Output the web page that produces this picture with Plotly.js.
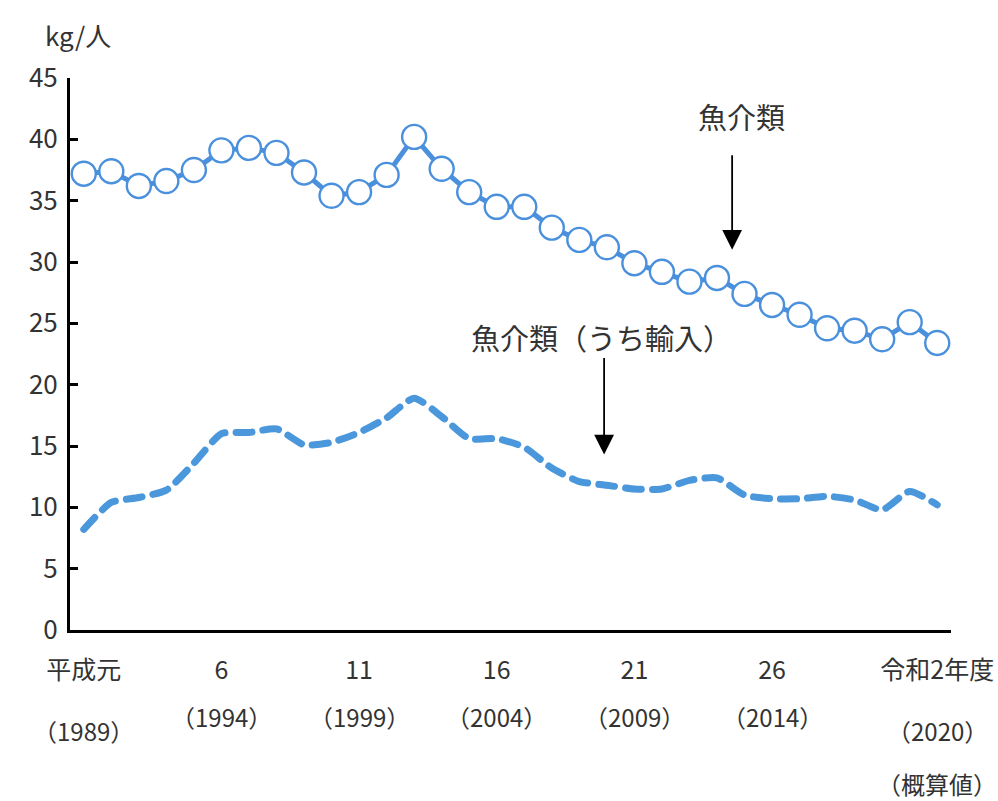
<!DOCTYPE html>
<html>
<head>
<meta charset="utf-8">
<script src="https://cdn.plot.ly/plotly-3.0.1.min.js"></script>
<style>
html,body{margin:0;padding:0;background:#fff;}
#chart{width:998px;height:801px;}
</style>
</head>
<body>
<div id="chart"></div>
<script>
const years = [1989,1990,1991,1992,1993,1994,1995,1996,1997,1998,1999,2000,2001,2002,2003,2004,2005,2006,2007,2008,2009,2010,2011,2012,2013,2014,2015,2016,2017,2018,2019,2020];
const fishTotal = [37.2,37.4,36.2,36.6,37.5,39.1,39.3,38.9,37.3,35.4,35.7,37.1,40.2,37.6,35.7,34.5,34.5,32.8,31.8,31.2,29.9,29.2,28.4,28.7,27.4,26.5,25.7,24.6,24.4,23.7,25.1,23.4];
const fishImport = [8.2,10.4,10.8,11.4,13.6,16.0,16.1,16.4,15.1,15.3,16.1,17.3,18.9,17.4,15.6,15.6,14.9,13.2,12.1,11.8,11.5,11.5,12.2,12.4,11.0,10.7,10.7,10.9,10.6,9.8,11.3,10.2];
const tickYears = [1989,1994,1999,2004,2009,2014,2020];
const tickEra = ['平成元','6','11','16','21','26','令和2年度'];
const tickWestern = ['（1989）','（1994）','（1999）','（2004）','（2009）','（2014）','（2020）'];
const yTicks = [0,5,10,15,20,25,30,35,40,45];
const seriesNames = ['魚介類','魚介類（うち輸入）'];
const unitLabel = 'kg/人';
const noteLabel = '（概算値）';

const FONT = '"Noto Sans CJK JP", "Noto Sans", sans-serif';
const TXT = '#333333';

const traces = [
  {
    x: years, y: fishImport, type: 'scatter', mode: 'lines', name: seriesNames[1],
    line: {color: '#4a97dc', width: 7, dash: '16px,11px', shape: 'spline', smoothing: 0.6},
    hoverinfo: 'x+y'
  },
  {
    x: years, y: fishTotal, type: 'scatter', mode: 'lines+markers', name: seriesNames[0],
    line: {color: '#4a90dc', width: 5},
    marker: {symbol: 'circle', size: 24, color: '#ffffff', line: {color: '#4a90dc', width: 2.4}},
    hoverinfo: 'x+y'
  }
];

const annotations = [];
tickYears.forEach((yr, i) => {
  annotations.push({
    x: yr, xref: 'x', y: 0, yref: 'y', yshift: (yr === 1989 || yr === 2020) ? -100 : -86,
    text: tickWestern[i], showarrow: false, xanchor: 'center', yanchor: 'middle',
    font: {family: FONT, size: 24, color: TXT}
  });
});
annotations.push({
  x: 2020, xref: 'x', y: 0, yref: 'y', yshift: -153,
  text: noteLabel, showarrow: false, xanchor: 'center', yanchor: 'middle',
  font: {family: FONT, size: 24, color: TXT}
});
annotations.push({
  x: 0, xref: 'paper', y: 45, yref: 'y', xshift: 8, yshift: 44,
  text: unitLabel, showarrow: false, xanchor: 'center', yanchor: 'middle',
  font: {family: FONT, size: 26, color: TXT}
});
annotations.push({
  x: 2012.9, xref: 'x', y: 41.9, yref: 'y',
  text: seriesNames[0], showarrow: false, xanchor: 'center', yanchor: 'middle',
  font: {family: FONT, size: 29, color: TXT}
});
annotations.push({
  x: 2007.8, xref: 'x', y: 23.9, yref: 'y',
  text: seriesNames[1], showarrow: false, xanchor: 'center', yanchor: 'middle',
  font: {family: FONT, size: 29, color: TXT}
});
annotations.push({
  x: 2012.55, xref: 'x', y: 31.0, yref: 'y', ax: 0, ay: -96, text: '',
  showarrow: true, arrowhead: 2, arrowsize: 2.2, arrowwidth: 1.8, arrowcolor: '#000'
});
annotations.push({
  x: 2007.9, xref: 'x', y: 14.3, yref: 'y', ax: 0, ay: -98, text: '',
  showarrow: true, arrowhead: 2, arrowsize: 2.2, arrowwidth: 1.8, arrowcolor: '#000'
});

const layout = {
  width: 998, height: 801,
  margin: {l: 70, r: 47, t: 78, b: 171},
  paper_bgcolor: '#ffffff', plot_bgcolor: '#ffffff',
  showlegend: false,
  font: {family: FONT, color: TXT},
  xaxis: {
    range: [1988.5, 2020.5],
    tickmode: 'array', tickvals: tickYears, ticktext: tickEra,
    tickfont: {family: FONT, size: 25, color: TXT},
    ticks: '', ticklen: 0, ticklabelstandoff: 16,
    showline: true, linecolor: '#000', linewidth: 3,
    showgrid: false, zeroline: false, fixedrange: true
  },
  yaxis: {
    range: [0, 45],
    tickmode: 'array', tickvals: yTicks,
    tickfont: {family: FONT, size: 26, color: TXT},
    ticks: 'inside', ticklen: 8, tickwidth: 3, tickcolor: '#000',
    ticklabelstandoff: 4,
    showline: true, linecolor: '#000', linewidth: 3,
    showgrid: false, zeroline: false, fixedrange: true
  },
  annotations: annotations
};

Plotly.newPlot('chart', traces, layout, {staticPlot: true}).then(() => {
  document.querySelectorAll('.scatterlayer .trace:first-child .js-line').forEach(p => {
    p.style.strokeLinecap = 'round';
  });
});
</script>
</body>
</html>
